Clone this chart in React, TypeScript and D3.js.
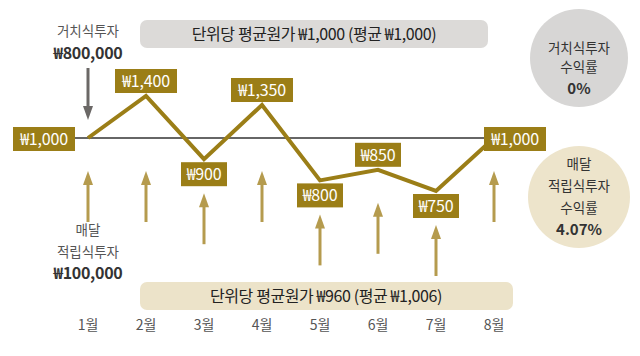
import React from 'react';
import * as d3 from 'd3';

const months = ['1월', '2월', '3월', '4월', '5월', '6월', '7월', '8월'];
const prices = [1000, 1400, 900, 1350, 800, 850, 750, 1000];
const lumpSumLabel = ['거치식투자', '₩800,000'];
const monthlyLabel = ['매달', '적립식투자', '₩100,000'];
const topBanner = '단위당 평균원가 ₩1,000 (평균 ₩1,000)';
const bottomBanner = '단위당 평균원가 ₩960 (평균 ₩1,006)';
const lumpReturn = ['거치식투자', '수익률', '0%'];
const monthlyReturn = ['매달', '적립식투자', '수익률', '4.07%'];

const W = 640;
const H = 356;
const GOLD = '#9b7e17';
const ARROW = '#b59b4e';
const FONT = '"Noto Sans CJK KR", "Noto Sans", sans-serif';

export default function App() {
  const x = d3.scalePoint<string>().domain(months).range([88, 494]);
  const y = d3.scaleLinear().domain([750, 1000, 1350, 1400]).range([191, 138, 105, 96]);
  const baseY = y(1000);
  const fmt = (v: number) => '₩' + d3.format(',')(v);
  const line = d3
    .line<number>()
    .x((_, i) => x(months[i]) as number)
    .y((d) => y(d));

  const boxH = 24;
  const gap = 3;
  const items = prices.map((p, i) => {
    const px = x(months[i]) as number;
    const py = y(p);
    const label = fmt(p);
    const w = label.length * 8 + 14;
    let pos: string;
    if (i === 0) pos = 'left';
    else if (i === prices.length - 1) pos = 'right';
    else if (p > prices[i - 1] && p > prices[i + 1]) pos = 'above';
    else pos = 'below';
    let bx = px - w / 2;
    let by = py - gap - boxH;
    if (pos === 'below') by = py + gap;
    if (pos === 'left') {
      bx = px - 13 - w;
      by = py - boxH / 2 + 1;
    }
    if (pos === 'right') {
      bx = px - 10;
      by = py - boxH / 2 + 1;
    }
    const tip = pos === 'below' ? by + boxH + 7 : Math.max(py, baseY) + 33;
    return { px, py, label, w, bx, by, tip, pos };
  });

  const ax0 = x(months[0]) as number;

  return (
    <div style={{ position: 'fixed', left: 0, top: 0 }}>
      <svg width={W} height={H} style={{ display: 'block', background: '#fff' }} fontFamily={FONT}>
        {/* top banner */}
        <rect x={140} y={20} width={348} height={28} rx={7} fill="#dcdad8" />
        <text x={314} y={34} dy="0.36em" textAnchor="middle" fontSize={16} fill="#222" letterSpacing={-0.4}>
          {topBanner}
        </text>

        {/* bottom banner */}
        <rect x={140} y={282} width={373} height={28} rx={7} fill="#ece3c9" />
        <text x={326} y={296} dy="0.36em" textAnchor="middle" fontSize={16} fill="#222" letterSpacing={-0.4}>
          {bottomBanner}
        </text>

        {/* return circles */}
        <circle cx={579} cy={58} r={49} fill="#d7d6d5" />
        {lumpReturn.map((t, i) => (
          <text key={t} x={579} y={i === 2 ? 89 : 48 + i * 19} dy="0.36em" textAnchor="middle"
            fontSize={i === 2 ? 15 : 13.5} fontWeight={i === 2 ? 700 : 400} fill="#333">
            {t}
          </text>
        ))}
        <circle cx={579} cy={197} r={51} fill="#ede4cb" />
        {monthlyReturn.map((t, i) => (
          <text key={t} x={579} y={i === 3 ? 230 : 164 + i * 22} dy="0.36em" textAnchor="middle"
            fontSize={i === 3 ? 15 : 13.5} fontWeight={i === 3 ? 700 : 400} fill="#333">
            {t}
          </text>
        ))}

        {/* lump sum annotation */}
        <text x={ax0} y={31} dy="0.36em" textAnchor="middle" fontSize={13.5} fill="#555">{lumpSumLabel[0]}</text>
        <text x={ax0} y={53} dy="0.36em" textAnchor="middle" fontSize={16} fontWeight={700} fill="#333" letterSpacing={-0.3}>
          {lumpSumLabel[1]}
        </text>
        <line x1={ax0} x2={ax0} y1={68} y2={108} stroke="#6b6866" strokeWidth={3} />
        <polygon points={`${ax0},120 ${ax0 - 5},106 ${ax0 + 5},106`} fill="#6b6866" />

        {/* monthly annotation */}
        <text x={ax0} y={230} dy="0.36em" textAnchor="middle" fontSize={13.5} fill="#555">{monthlyLabel[0]}</text>
        <text x={ax0} y={252} dy="0.36em" textAnchor="middle" fontSize={13.5} fill="#555">{monthlyLabel[1]}</text>
        <text x={ax0} y={273} dy="0.36em" textAnchor="middle" fontSize={16} fontWeight={700} fill="#333" letterSpacing={-0.3}>
          {monthlyLabel[2]}
        </text>

        {/* baseline */}
        <line x1={items[0].bx + items[0].w} x2={items[items.length - 1].bx} y1={baseY} y2={baseY} stroke="#333" strokeWidth={1.5} />

        {/* arrows */}
        {items.map((d, i) => (
          <g key={'a' + i}>
            <line x1={d.px} x2={d.px} y1={d.tip + 12} y2={d.tip + 51} stroke={ARROW} strokeWidth={3} />
            <polygon points={`${d.px},${d.tip} ${d.px - 5},${d.tip + 14} ${d.px + 5},${d.tip + 14}`} fill={ARROW} />
          </g>
        ))}

        {/* price line */}
        <path d={line(prices) || ''} fill="none" stroke={GOLD} strokeWidth={4} strokeLinejoin="miter" />

        {/* price boxes */}
        {items.map((d, i) => (
          <g key={'b' + i}>
            <rect x={d.bx} y={d.by} width={d.w} height={boxH} fill={GOLD} />
            <text x={d.bx + d.w / 2} y={d.by + boxH / 2} dy="0.36em" textAnchor="middle" fontSize={16} fill="#fff" letterSpacing={-0.2}>
              {d.label}
            </text>
          </g>
        ))}

        {/* month labels */}
        {months.map((m) => (
          <text key={m} x={x(m) as number} y={325} dy="0.36em" textAnchor="middle" fontSize={14} fill="#555">
            {m}
          </text>
        ))}
      </svg>
    </div>
  );
}
